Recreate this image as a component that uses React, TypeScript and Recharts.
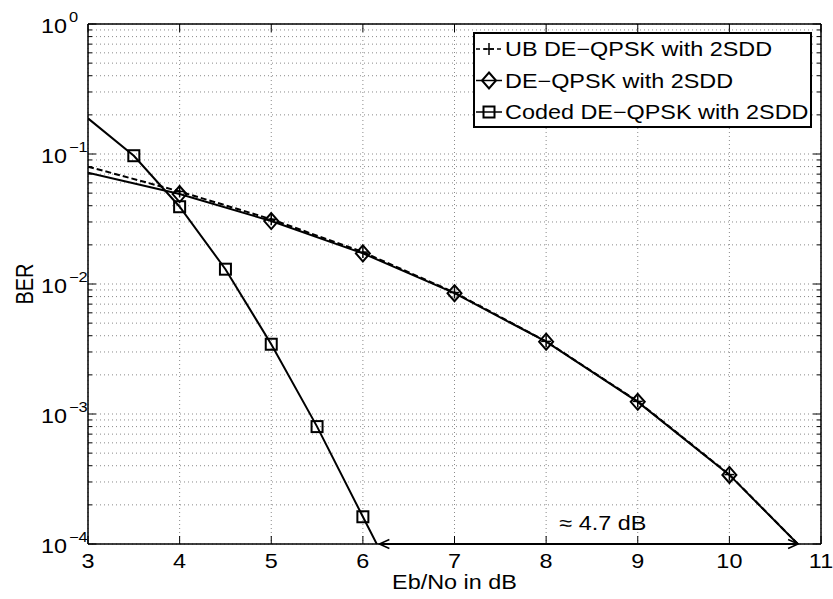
import React from 'react';
import {
  ComposedChart,
  Line,
  XAxis,
  YAxis,
  CartesianGrid,
  Legend,
  ReferenceLine,
  ReferenceDot,
} from 'recharts';

// ---------- data ----------
const ebNoTicks = [3, 4, 5, 6, 7, 8, 9, 10, 11];
const decades = [1e-4, 1e-3, 1e-2, 1e-1];
const mantissas = [1, 2, 3, 4, 5, 6, 7, 8, 9];
const berTicks = [
  ...decades.flatMap((d) => mantissas.map((m) => +(m * d).toPrecision(6))),
  1,
];

const seriesNames = [
  'UB DE\u2212QPSK with 2SDD',
  'DE\u2212QPSK with 2SDD',
  'Coded DE\u2212QPSK with 2SDD',
];

const ubEbNo = [3, 4, 5, 6, 7, 8, 9, 10, 11];
const ubBer = [0.08, 0.0515, 0.0315, 0.0176, 0.0086, 0.00362, 0.00125, 0.000342, 0.000066];
const ubMarked = [false, true, true, true, true, true, true, true, false];

const deEbNo = [3, 4, 5, 6, 7, 8, 9, 10, 11];
const deBer = [0.0718, 0.0492, 0.0305, 0.0172, 0.0085, 0.0036, 0.00124, 0.00034, 0.000066];
const deMarked = [false, true, true, true, true, true, true, true, false];

const codedEbNo = [3, 3.5, 4, 4.5, 5, 5.5, 6, 6.5];
const codedBer = [0.188, 0.097, 0.0393, 0.013, 0.00344, 0.0008, 0.000162, 0.000033];
const codedMarked = [false, true, true, true, true, true, true, false];

const gapStart = 6.18;
const gapEnd = 10.75;
const gapBer = 1e-4;
const gapLabel = '\u2248 4.7 dB';
const gapLabelX = 8.62;
const gapLabelBer = 1.28e-4;

const xLabel = 'Eb/No in dB';
const yLabel = 'BER';

// ---------- build tables ----------
const toRows = (xs: number[], ys: number[], marked: boolean[]) =>
  xs.map((x, i) => ({ x, y: ys[i], m: marked[i] }));
const ubData = toRows(ubEbNo, ubBer, ubMarked);
const deData = toRows(deEbNo, deBer, deMarked);
const codedData = toRows(codedEbNo, codedBer, codedMarked);

// ---------- styles ----------
const FONT = '"Liberation Sans", Arial, Helvetica, sans-serif';
const SX = 1.17;
const INK = '#000';

type MarkerKind = 'plus' | 'diamond' | 'square';
const markerOf: Record<string, MarkerKind> = {
  [seriesNames[0]]: 'plus',
  [seriesNames[1]]: 'diamond',
  [seriesNames[2]]: 'square',
};

const Marker = ({ kind, cx, cy }: { kind: MarkerKind; cx: number; cy: number }) => {
  if (kind === 'plus')
    return (
      <g stroke={INK} strokeWidth={1.5}>
        <line x1={cx - 5} y1={cy} x2={cx + 5} y2={cy} />
        <line x1={cx} y1={cy - 6} x2={cx} y2={cy + 6} />
      </g>
    );
  if (kind === 'diamond')
    return (
      <path
        d={`M${cx},${cy - 8}L${cx + 7},${cy}L${cx},${cy + 8}L${cx - 7},${cy}Z`}
        fill="none"
        stroke={INK}
        strokeWidth={2}
      />
    );
  return (
    <rect x={cx - 5.5} y={cy - 5.5} width={11} height={11} fill="none" stroke={INK} strokeWidth={2} />
  );
};

const makeDot = (kind: MarkerKind) => (p: any) => {
  const key = `${kind}-${p.index}`;
  if (!p.payload || !p.payload.m || p.cx == null || p.cy == null) return <g key={key} />;
  return (
    <g key={key}>
      <Marker kind={kind} cx={p.cx} cy={p.cy} />
    </g>
  );
};

const isMajor = (v: number) => {
  const l = Math.log10(v);
  return Math.abs(l - Math.round(l)) < 1e-9;
};

const LeftTick = (p: any) => {
  const { x, y, payload } = p;
  const v = payload.value;
  const major = isMajor(v);
  const e = Math.round(Math.log10(v));
  return (
    <g>
      <line x1={x} y1={y} x2={x + (major ? 8 : 4)} y2={y} stroke={INK} strokeWidth={1} />
      {major && (
        <>
          <text
            transform={`translate(${x - 21},${y + 9}) scale(${SX},1)`}
            textAnchor="end"
            fontSize={20}
            fill={INK}
            fontFamily={FONT}
          >
            10
          </text>
          <text
            transform={`translate(${x - 19},${y - 2.5}) scale(${SX},1)`}
            textAnchor="start"
            fontSize={14}
            fill={INK}
            fontFamily={FONT}
          >
            {e < 0 ? `\u2212${-e}` : `${e}`}
          </text>
        </>
      )}
    </g>
  );
};

const RightTick = (p: any) => {
  const { x, y, payload } = p;
  const major = isMajor(payload.value);
  return <line x1={x} y1={y} x2={x - (major ? 8 : 4)} y2={y} stroke={INK} strokeWidth={1} />;
};

const BottomTick = (p: any) => {
  const { x, y, payload } = p;
  return (
    <g>
      <line x1={x} y1={y} x2={x} y2={y - 8} stroke={INK} strokeWidth={1} />
      <text
        transform={`translate(${x},${y + 24}) scale(${SX},1)`}
        textAnchor="middle"
        fontSize={20}
        fill={INK}
        fontFamily={FONT}
      >
        {payload.value}
      </text>
    </g>
  );
};

const TopTick = (p: any) => {
  const { x, y } = p;
  return <line x1={x} y1={y} x2={x} y2={y + 8} stroke={INK} strokeWidth={1} />;
};

const XLabel = (p: any) => {
  const vb = p.viewBox || {};
  return (
    <text
      transform={`translate(${vb.x + vb.width / 2},${vb.y + 45}) scale(${SX},1)`}
      textAnchor="middle"
      fontSize={20}
      fill={INK}
      fontFamily={FONT}
    >
      {xLabel}
    </text>
  );
};

const YLabel = (p: any) => {
  const vb = p.viewBox || {};
  return (
    <text
      transform={`translate(33,${vb.y + vb.height / 2}) scale(${SX},1) rotate(-90)`}
      textAnchor="middle"
      fontSize={20}
      fill={INK}
      fontFamily={FONT}
    >
      {yLabel}
    </text>
  );
};

const GapArrow = (p: any) => {
  const { x1, y1, x2 } = p;
  const xl = Math.min(x1, x2);
  const xr = Math.max(x1, x2);
  const y = y1;
  return (
    <g>
      <line x1={xl} y1={y} x2={xr} y2={y} stroke={INK} strokeWidth={2} />
      <path d={`M${xl + 10},${y - 4.5}L${xl},${y}L${xl + 10},${y + 4.5}`} fill="none" stroke={INK} strokeWidth={1.5} />
      <path d={`M${xr - 10},${y - 4.5}L${xr},${y}L${xr - 10},${y + 4.5}`} fill="none" stroke={INK} strokeWidth={1.5} />
    </g>
  );
};

const GapText = (p: any) => (
  <text
    transform={`translate(${p.cx},${p.cy}) scale(${SX},1)`}
    textAnchor="middle"
    fontSize={20}
    fill={INK}
    fontFamily={FONT}
  >
    {gapLabel}
  </text>
);

const LegendBox = (props: any) => {
  const payload = [...(props.payload || [])].sort(
    (a: any, b: any) => seriesNames.indexOf(a.value) - seriesNames.indexOf(b.value)
  );
  return (
    <svg width={339} height={96} style={{ display: 'block' }}>
      <rect x={1} y={1} width={337} height={94} fill="#fff" stroke={INK} strokeWidth={2} />
      {payload.map((e: any, i: number) => {
        const cy = 17 + i * 31.5;
        const kind = markerOf[e.value] || 'square';
        const dashed = kind === 'plus';
        return (
          <g key={i}>
            <line
              x1={3}
              y1={cy}
              x2={29}
              y2={cy}
              stroke={INK}
              strokeWidth={1.5}
              strokeDasharray={dashed ? '4 3' : undefined}
            />
            <Marker kind={kind} cx={16} cy={cy} />
            <text
              transform={`translate(32,${cy + 7}) scale(${SX},1)`}
              fontSize={20}
              fill={INK}
              fontFamily={FONT}
            >
              {e.value}
            </text>
          </g>
        );
      })}
    </svg>
  );
};

export default function App() {
  return (
    <div style={{ position: 'absolute', left: 0, top: 0, background: '#fff' }}>
      <ComposedChart
        width={833}
        height={599}
        margin={{ top: 0, right: 0, bottom: 0, left: 0 }}
        style={{ fontFamily: FONT }}
      >
        <CartesianGrid stroke="#8a8a8a" strokeDasharray="1 3" strokeWidth={1} />
        <XAxis
          dataKey="x"
          type="number"
          domain={[3, 11]}
          ticks={ebNoTicks}
          interval={0}
          allowDataOverflow
          height={55}
          tickSize={0}
          tickMargin={0}
          tickLine={false}
          axisLine={{ stroke: INK, strokeWidth: 1.5 }}
          tick={<BottomTick />}
          label={<XLabel />}
        />
        <XAxis
          xAxisId="top"
          orientation="top"
          dataKey="x"
          type="number"
          domain={[3, 11]}
          ticks={ebNoTicks}
          interval={0}
          allowDataOverflow
          height={24}
          tickSize={0}
          tickMargin={0}
          tickLine={false}
          axisLine={{ stroke: INK, strokeWidth: 1.5 }}
          tick={<TopTick />}
        />
        <YAxis
          type="number"
          scale="log"
          domain={[1e-4, 1]}
          ticks={berTicks}
          interval={0}
          allowDataOverflow
          width={88}
          tickSize={0}
          tickMargin={0}
          tickLine={false}
          axisLine={{ stroke: INK, strokeWidth: 1.5 }}
          tick={<LeftTick />}
          label={<YLabel />}
        />
        <YAxis
          yAxisId="right"
          orientation="right"
          type="number"
          scale="log"
          domain={[1e-4, 1]}
          ticks={berTicks}
          interval={0}
          allowDataOverflow
          width={12}
          tickSize={0}
          tickMargin={0}
          tickLine={false}
          axisLine={{ stroke: INK, strokeWidth: 1.5 }}
          tick={<RightTick />}
        />
        <Line
          data={ubData}
          dataKey="y"
          name={seriesNames[0]}
          type="linear"
          stroke={INK}
          strokeWidth={2}
          strokeDasharray="6 3"
          dot={makeDot('plus')}
          activeDot={false}
          isAnimationActive={false}
        />
        <Line
          data={deData}
          dataKey="y"
          name={seriesNames[1]}
          type="linear"
          stroke={INK}
          strokeWidth={2}
          dot={makeDot('diamond')}
          activeDot={false}
          isAnimationActive={false}
        />
        <Line
          data={codedData}
          dataKey="y"
          name={seriesNames[2]}
          type="linear"
          stroke={INK}
          strokeWidth={2}
          dot={makeDot('square')}
          activeDot={false}
          isAnimationActive={false}
        />
        <ReferenceLine
          segment={[
            { x: gapStart, y: gapBer },
            { x: gapEnd, y: gapBer },
          ]}
          ifOverflow="visible"
          shape={<GapArrow />}
        />
        <ReferenceDot
          x={gapLabelX}
          y={gapLabelBer}
          r={0}
          ifOverflow="visible"
          shape={<GapText />}
        />
        <Legend
          layout="vertical"
          align="center"
          verticalAlign="middle"
          content={<LegendBox />}
          wrapperStyle={{ position: 'absolute', left: 473, top: 32, width: 339, height: 96 }}
        />
      </ComposedChart>
    </div>
  );
}
